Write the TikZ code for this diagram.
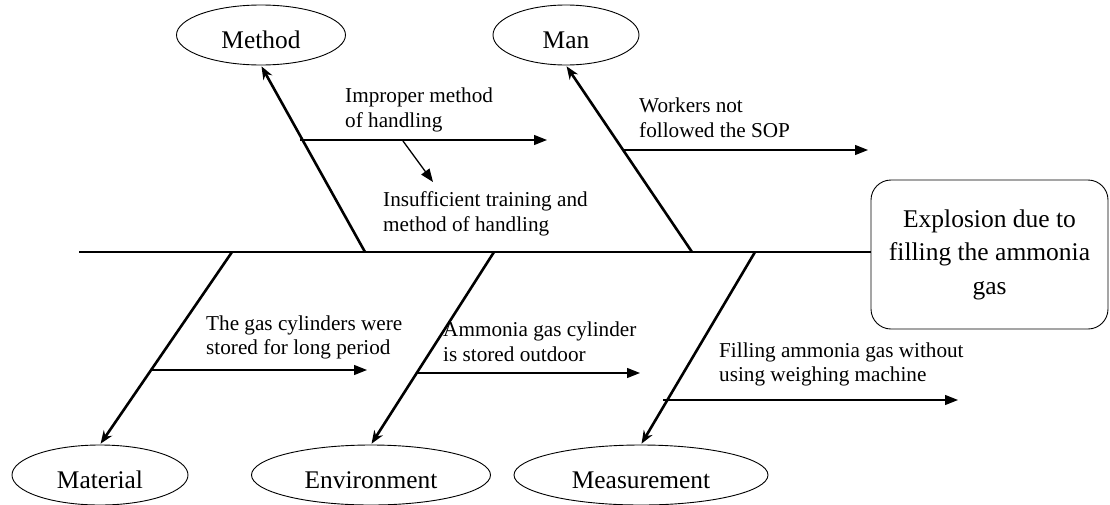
\documentclass[tikz,border=0pt]{standalone}
\usepackage{fontspec}
\setmainfont{Liberation Serif}
\usetikzlibrary{arrows.meta,shapes.geometric}
\begin{document}
\begin{tikzpicture}[x=1pt,y=-1pt,
  cat/.style={draw,ellipse,line width=0.9pt,minimum height=60pt,inner sep=0pt,
    font=\fontsize{25.4}{30}\selectfont,text height=26pt,text depth=0pt},
  bone/.style={line width=2.6pt,-{Stealth[length=13pt,width=10pt]},shorten >=1pt},
  sub/.style={line width=1.3pt,-{Triangle[length=13pt,width=10pt]}},
  cause/.style={anchor=west,align=left,inner sep=0pt,font=\fontsize{21.2}{24.8}\selectfont},
  effectbox/.style={draw,rounded corners=20pt,line width=0.9pt,minimum width=237pt,
    minimum height=149pt,align=center,inner sep=0pt,font=\fontsize{25.5}{33.5}\selectfont}
]
\useasboundingbox (0,0) rectangle (1110,504);

% category ellipses
\node[cat,minimum width=169pt] (method) at (261,35) {Method};
\node[cat,minimum width=146pt] (man) at (566,35) {Man};
\node[cat,minimum width=176pt] (material) at (100,475) {Material};
\node[cat,minimum width=239pt] (env) at (371,475) {Environment};
\node[cat,minimum width=254pt] (meas) at (641,475) {Measurement};

% effect
\node[effectbox] (effect) at (989.5,254.5) {Explosion due to\\filling the ammonia\\gas};

% spine
\coordinate (tail) at (79,252);
\draw[line width=2.6pt] (tail) -- (tail -| effect.west);

% junctions on spine
\coordinate (jmethod) at (365,252);
\coordinate (jman) at (692,252);
\coordinate (jmat) at (232,252);
\coordinate (jenv) at (494,252);
\coordinate (jmeas) at (755,252);

\draw[bone] (jmethod) -- (method.south);
\draw[bone] (jman) -- (man.south);
\draw[bone] (jmat) -- (material.north);
\draw[bone] (jenv) -- (env.north);
\draw[bone] (jmeas) -- (meas.north);

% Method causes
\coordinate (s1) at (300,140);
\coordinate (e1) at (547,140);
\draw[sub] (s1) -- (e1);
\node[cause] (t1) at (345,110) {Improper method\\of handling};
\coordinate (s1b) at (403,141);
\coordinate (e1b) at (433,182);
\draw[sub] (s1b) -- (e1b);
\node[cause] (t1b) at (383,213.5) {Insufficient training and\\method of handling};

% Man causes
\coordinate (s2) at (624,150);
\coordinate (e2) at (868,150);
\draw[sub] (s2) -- (e2);
\node[cause] (t2) at (639,117.5) {Workers not\\followed the SOP};

% Material causes
\coordinate (s3) at (150,370);
\coordinate (e3) at (367,370);
\draw[sub] (s3) -- (e3);
\node[cause] (t3) at (206,337.5) {The gas cylinders were\\stored for long period};

% Environment causes
\coordinate (s4) at (416,373);
\coordinate (e4) at (640,373);
\draw[sub] (s4) -- (e4);
\node[cause] (t4) at (443,342) {Ammonia gas cylinder\\is stored outdoor};

% Measurement causes
\coordinate (s5) at (663,400);
\coordinate (e5) at (958,400);
\draw[sub] (s5) -- (e5);
\node[cause] (t5) at (719,364.5) {Filling ammonia gas without\\using weighing machine};
\end{tikzpicture}
\end{document}
